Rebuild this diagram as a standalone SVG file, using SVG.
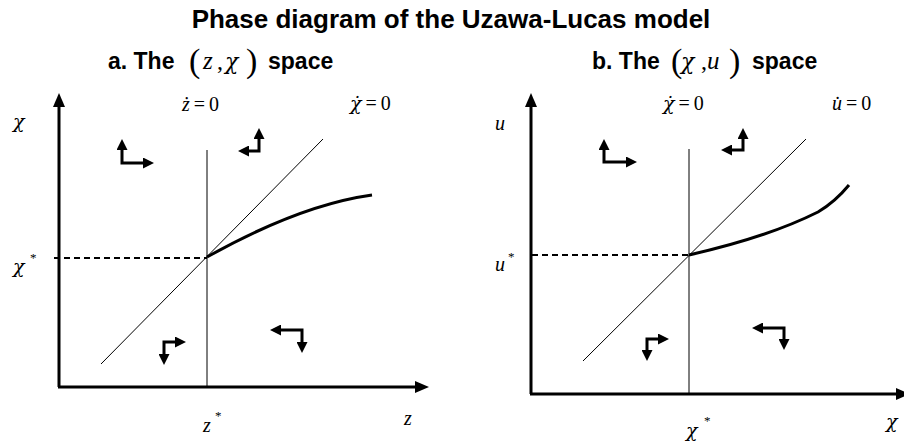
<svg xmlns="http://www.w3.org/2000/svg" width="904" height="445" viewBox="0 0 904 445">
<style>
.title{font-family:"Liberation Sans",Arial,sans-serif;font-weight:bold;font-size:26px;fill:#000}
.sub{font-family:"Liberation Sans",Arial,sans-serif;font-weight:bold;font-size:23px;fill:#000}
.m{font-family:"Liberation Serif","Times New Roman",serif;font-size:20px;fill:#000}
.mi{font-family:"Liberation Serif","Times New Roman",serif;font-style:italic;font-size:20px;fill:#000}
.gr{font-family:"DejaVu Serif",serif;font-style:italic;font-size:19px;fill:#000}
.grb{font-family:"DejaVu Serif",serif;font-style:italic;font-size:22px;fill:#000}
.big{font-family:"Liberation Serif","Times New Roman",serif;font-size:24px;fill:#000}
.bigi{font-family:"Liberation Serif","Times New Roman",serif;font-style:italic;font-size:25px;fill:#000}
.par{font-family:"Liberation Serif","Times New Roman",serif;font-size:34px;fill:#000}
.star{font-family:"Liberation Serif","Times New Roman",serif;font-size:13px;fill:#000}
.axis{stroke:#000;stroke-width:3;fill:none}
.thin{stroke:#000;stroke-width:1;fill:none}
.dash{stroke:#000;stroke-width:2;stroke-dasharray:6,4;fill:none}
.curve{stroke:#000;stroke-width:3;fill:none}
.pb{stroke:#000;stroke-width:3;fill:none;marker-start:url(#phs);marker-end:url(#ph)}
</style>
<defs>
<marker id="ax" markerUnits="userSpaceOnUse" viewBox="0 0 14 12" refX="2" refY="6" markerWidth="14" markerHeight="12" orient="auto">
<path d="M0,0 L14,6 L0,12 z" fill="#000"/>
</marker>
<marker id="ph" markerUnits="userSpaceOnUse" viewBox="0 0 11 11" refX="2" refY="5.5" markerWidth="11" markerHeight="11" orient="auto">
<path d="M0,0 L11,5.5 L0,11 z" fill="#000"/>
</marker>
<marker id="phs" markerUnits="userSpaceOnUse" viewBox="0 0 11 11" refX="9" refY="5.5" markerWidth="11" markerHeight="11" orient="auto">
<path d="M11,0 L0,5.5 L11,11 z" fill="#000"/>
</marker>
</defs>

<g id="title">
<text class="title" x="451" y="28" text-anchor="middle">Phase diagram of the Uzawa-Lucas model</text>
</g>

<g id="subtitle-a">
<text class="sub" x="108" y="69">a. The</text>
<text class="par" x="189" y="72">(</text>
<text class="bigi" x="203" y="69">z</text>
<text class="big" x="217" y="69">,</text>
<text class="grb" x="225" y="69">χ</text>
<text class="par" x="246" y="72">)</text>
<text class="sub" x="268" y="69">space</text>
</g>

<g id="subtitle-b">
<text class="sub" x="592" y="69">b. The</text>
<text class="par" x="671" y="72">(</text>
<text class="grb" x="681" y="69">χ</text>
<text class="big" x="701" y="69">,</text>
<text class="bigi" x="707" y="69">u</text>
<text class="par" x="729" y="72">)</text>
<text class="sub" x="752" y="69">space</text>
</g>

<!-- Panel a -->
<g id="panel-a-axes">
<path class="axis" d="M59,387 V105" marker-end="url(#ax)"/>
<path class="axis" d="M58,387 H417" marker-end="url(#ax)"/>
</g>
<g id="panel-a-curves">
<path class="thin" d="M207,150 V387"/>
<path class="thin" d="M101,364 L323,139"/>
<path class="dash" d="M54,258 H207"/>
<path class="curve" d="M207,257 Q300,205 372,195"/>
</g>
<g id="panel-a-labels">
<text class="gr" x="13" y="128">χ</text>
<text class="gr" x="13" y="273">χ</text>
<text class="star" x="30" y="262">*</text>
<text class="mi" x="203" y="432">z</text>
<text class="star" x="215" y="420">*</text>
<text class="mi" x="404" y="425">z</text>
<text x="182" y="111"><tspan class="mi">ż</tspan><tspan class="m" dx="4">=</tspan><tspan class="m" dx="4">0</tspan></text>
<text x="350" y="110"><tspan class="gr">χ̇</tspan><tspan class="m" dx="4">=</tspan><tspan class="m" dx="4">0</tspan></text>
</g>
<g id="panel-a-arrows">
<path class="pb" d="M122,148 V163 H145"/>
<path class="pb" d="M259,137 V151 H247"/>
<path class="pb" d="M177,342 H164 V356"/>
<path class="pb" d="M279,330 H302 V344"/>
</g>

<!-- Panel b -->
<g id="panel-b-axes">
<path class="axis" d="M531,394 V105" marker-end="url(#ax)"/>
<path class="axis" d="M530,394 H898" marker-end="url(#ax)"/>
</g>
<g id="panel-b-curves">
<path class="thin" d="M689,149 V394"/>
<path class="thin" d="M583,361 L806,139"/>
<path class="dash" d="M532,255 H689"/>
<path class="curve" d="M689,255 C720,248 770,236 818,212 Q835,202 849,185"/>
</g>
<g id="panel-b-labels">
<text class="mi" x="495" y="130">u</text>
<text class="mi" x="495" y="271">u</text>
<text class="star" x="508" y="261">*</text>
<text class="gr" x="686" y="437">χ</text>
<text class="star" x="704" y="425">*</text>
<text class="gr" x="886" y="428">χ</text>
<text x="663" y="110"><tspan class="gr">χ̇</tspan><tspan class="m" dx="4">=</tspan><tspan class="m" dx="4">0</tspan></text>
<text x="832" y="110"><tspan class="mi">u̇</tspan><tspan class="m" dx="4">=</tspan><tspan class="m" dx="4">0</tspan></text>
</g>
<g id="panel-b-arrows">
<path class="pb" d="M604,148 V162 H628"/>
<path class="pb" d="M743,137 V150 H730"/>
<path class="pb" d="M660,339 H647 V352"/>
<path class="pb" d="M761,328 H784 V341"/>
</g>
</svg>
